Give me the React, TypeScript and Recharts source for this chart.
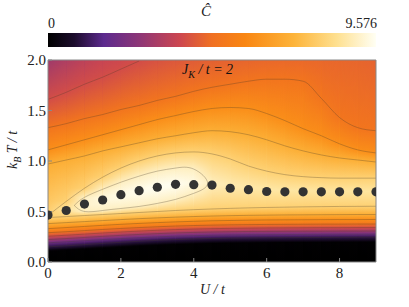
import React from "react";
import { ComposedChart, XAxis, YAxis, ReferenceArea, Line, Scatter } from "recharts";

const C_MAX = 9.576;
const U_GRID = [0, 0.5, 1, 1.5, 2, 2.5, 3, 3.5, 4, 4.5, 5, 5.5, 6, 6.5, 7, 7.5, 8, 8.5, 9];

// top of the black (C ~ 0) band per U column
const blackT = [0.11, 0.12, 0.13, 0.14, 0.15, 0.16, 0.168, 0.175, 0.18, 0.185, 0.188, 0.19, 0.192, 0.193, 0.194, 0.195, 0.196, 0.197, 0.198];

// contour heights (k_B T / t) read per U column, rising side: C = 1 .. 8
const lower1 = [0.15, 0.16, 0.172, 0.184, 0.195, 0.205, 0.214, 0.222, 0.228, 0.233, 0.236, 0.238, 0.24, 0.241, 0.242, 0.243, 0.244, 0.245, 0.245];
const lower2 = [0.19, 0.2, 0.211, 0.222, 0.232, 0.241, 0.249, 0.256, 0.261, 0.265, 0.268, 0.27, 0.271, 0.272, 0.273, 0.274, 0.275, 0.275, 0.276];
const lower3 = [0.222, 0.232, 0.243, 0.254, 0.264, 0.273, 0.281, 0.288, 0.293, 0.297, 0.3, 0.302, 0.303, 0.304, 0.305, 0.305, 0.306, 0.306, 0.307];
const lower4 = [0.255, 0.265, 0.276, 0.287, 0.297, 0.306, 0.314, 0.321, 0.326, 0.33, 0.333, 0.335, 0.337, 0.338, 0.339, 0.34, 0.34, 0.341, 0.341];
const lower5 = [0.29, 0.3, 0.311, 0.322, 0.332, 0.341, 0.349, 0.356, 0.361, 0.365, 0.368, 0.37, 0.372, 0.373, 0.374, 0.375, 0.375, 0.376, 0.376];
const lower6 = [0.33, 0.341, 0.352, 0.363, 0.373, 0.382, 0.39, 0.397, 0.403, 0.408, 0.411, 0.414, 0.416, 0.417, 0.418, 0.419, 0.42, 0.42, 0.421];
const lower7 = [0.38, 0.39, 0.4, 0.41, 0.42, 0.429, 0.437, 0.444, 0.45, 0.455, 0.459, 0.462, 0.464, 0.466, 0.467, 0.468, 0.469, 0.47, 0.47];
const lower8 = [0.44, 0.45, 0.46, 0.47, 0.48, 0.49, 0.5, 0.51, 0.518, 0.525, 0.531, 0.536, 0.54, 0.543, 0.546, 0.548, 0.55, 0.551, 0.552];
const lower9 = [null, null, 0.5, 0.51, 0.53, 0.55, 0.58, 0.62, 0.68, null, null, null, null, null, null, null, null, null, null];

// falling side (above the maximum): C = 9 .. 4
const upper9 = [null, null, 0.64, 0.72, 0.79, 0.85, 0.9, 0.93, 0.92, null, null, null, null, null, null, null, null, null, null];
const upper8 = [0.46, 0.6, 0.73, 0.84, 0.93, 1.0, 1.05, 1.08, 1.09, 1.07, 1.02, 0.95, 0.9, 0.865, 0.845, 0.835, 0.83, 0.83, 0.83];
const upper7 = [0.97, 1.01, 1.05, 1.1, 1.14, 1.18, 1.22, 1.25, 1.28, 1.3, 1.29, 1.26, 1.21, 1.15, 1.1, 1.06, 1.03, 1.01, 0.99];
const upper6 = [1.11, 1.16, 1.21, 1.26, 1.31, 1.36, 1.41, 1.45, 1.49, 1.52, 1.53, 1.52, 1.47, 1.4, 1.32, 1.25, 1.17, 1.11, 1.08];
const upper5 = [1.33, 1.37, 1.42, 1.46, 1.51, 1.55, 1.6, 1.64, 1.69, 1.73, 1.76, 1.79, 1.81, 1.81, 1.79, 1.62, 1.43, 1.33, 1.3];
const upper4 = [1.61, 1.68, 1.76, 1.83, 1.91, 1.99, null, null, null, null, null, null, null, null, null, null, null, null, null];

// ellipse tips of the C = 9 contour
const tip9Left = { u: 0.72, t: 0.56 };
const tip9Right = { u: 4.38, t: 0.78 };

// maximum of each column and the value at the top edge
const ridgeT = [0.45, 0.52, 0.57, 0.62, 0.66, 0.7, 0.74, 0.77, 0.79, 0.78, 0.76, 0.74, 0.72, 0.71, 0.71, 0.7, 0.7, 0.7, 0.7];
const ridgeC = [8.05, 8.6, 9.15, 9.35, 9.45, 9.52, 9.576, 9.55, 9.35, 8.95, 8.8, 8.72, 8.68, 8.65, 8.63, 8.62, 8.61, 8.6, 8.6];
const topC = [3.0, 3.3, 3.55, 3.75, 3.88, 3.97, 4.12, 4.25, 4.35, 4.45, 4.5, 4.55, 4.6, 4.62, 4.62, 4.6, 4.58, 4.55, 4.5];

// black dots
const dotT = [0.465, 0.51, 0.574, 0.614, 0.667, 0.706, 0.74, 0.769, 0.766, 0.762, 0.73, 0.716, 0.698, 0.695, 0.695, 0.695, 0.695, 0.695, 0.695];

const CMAP: [number, string][] = [
  [0, "#000000"],
  [0.08, "#1c0c2c"],
  [0.17, "#5c2a8e"],
  [0.28, "#8e3676"],
  [0.4, "#cc4650"],
  [0.5, "#f07022"],
  [0.6, "#f98612"],
  [0.75, "#fdb43a"],
  [0.88, "#fee090"],
  [1, "#fffff4"],
];

function hex(c: string) {
  return [1, 3, 5].map((i) => parseInt(c.slice(i, i + 2), 16));
}

function colorAt(f: number) {
  const v = Math.max(0, Math.min(1, f));
  for (let i = 1; i < CMAP.length; i++) {
    if (v <= CMAP[i][0]) {
      const [p0, c0] = CMAP[i - 1];
      const [p1, c1] = CMAP[i];
      const k = (v - p0) / (p1 - p0);
      const a = hex(c0);
      const b = hex(c1);
      const m = a.map((x, j) => Math.round(x + (b[j] - x) * k));
      return `rgb(${m[0]},${m[1]},${m[2]})`;
    }
  }
  return CMAP[CMAP.length - 1][1];
}

const lowers = [lower1, lower2, lower3, lower4, lower5, lower6, lower7, lower8];
const uppers: [number, (number | null)[]][] = [
  [8, upper8],
  [7, upper7],
  [6, upper6],
  [5, upper5],
  [4, upper4],
];

function columnStops(i: number) {
  const s: { t: number; c: number }[] = [{ t: 0, c: 0 }, { t: blackT[i], c: 0.05 }];
  lowers.forEach((arr, k) => s.push({ t: arr[i], c: k + 1 }));
  if (lower9[i] != null) s.push({ t: lower9[i] as number, c: 9 });
  s.push({ t: ridgeT[i], c: ridgeC[i] });
  if (upper9[i] != null) s.push({ t: upper9[i] as number, c: 9 });
  uppers.forEach(([c, arr]) => {
    if (arr[i] != null) s.push({ t: arr[i] as number, c });
  });
  s.push({ t: 2, c: topC[i] });
  return s.sort((a, b) => a.t - b.t);
}

function branch(arr: (number | null)[]) {
  return U_GRID.map((u, i) => ({ u, t: arr[i] })).filter((p) => p.t != null);
}

const ellipse = [
  tip9Left,
  ...branch(upper9),
  tip9Right,
  ...branch(lower9).reverse(),
  tip9Left,
];

const contourSets = [
  ...lowers.map((a) => branch(a)),
  branch(upper8),
  branch(upper7),
  branch(upper6),
  branch(upper5),
  branch(upper4),
];

const dots = U_GRID.map((u, i) => ({ u, t: dotT[i] }));

const serif = "Liberation Serif, Times New Roman, serif";
const tickStyle = { fontSize: 15, fill: "#222", fontFamily: serif };
const lineColor = "rgba(70,55,40,0.38)";

export default function App() {
  const cbGradient = `linear-gradient(to right, ${CMAP.map(([p, c]) => `${c} ${p * 100}%`).join(", ")})`;
  const spans = U_GRID.slice(0, -1);
  return (
    <div style={{ position: "absolute", left: 0, top: 0, width: 409, height: 307, background: "#fff", fontFamily: serif }}>
      <div style={{ position: "absolute", left: 201, top: 3, fontSize: 15, fontStyle: "italic", color: "#222" }}>Ĉ</div>
      <div style={{ position: "absolute", left: 48, top: 16, fontSize: 14, color: "#222" }}>0</div>
      <div style={{ position: "absolute", right: 409 - 377, top: 16, fontSize: 14, color: "#222" }}>9.576</div>
      <div style={{ position: "absolute", left: 48, top: 33, width: 328, height: 14, background: cbGradient }} />

      <ComposedChart width={409} height={307} margin={{ top: 59, right: 32, bottom: 0, left: 0 }}>
        <defs>
          {U_GRID.map((u, i) => (
            <linearGradient key={i} id={`col${i}`} x1="0" y1="1" x2="0" y2="0">
              {columnStops(i).map((s, j) => (
                <stop key={j} offset={`${(s.t / 2) * 100}%`} stopColor={colorAt(s.c / C_MAX)} />
              ))}
            </linearGradient>
          ))}
          <linearGradient id="ramp" x1="0" y1="0" x2="1" y2="0">
            <stop offset="0%" stopColor="#fff" stopOpacity={0} />
            <stop offset="100%" stopColor="#fff" stopOpacity={1} />
          </linearGradient>
          <mask id="rampMask" maskContentUnits="objectBoundingBox">
            <rect x={0} y={0} width={1} height={1} fill="url(#ramp)" />
          </mask>
          <clipPath id="plotClip">
            <rect x={48} y={60} width={328} height={202} />
          </clipPath>
        </defs>
        <XAxis
          xAxisId="b"
          type="number"
          dataKey="u"
          domain={[0, 9]}
          ticks={[0, 2, 4, 6, 8]}
          allowDataOverflow
          height={45}
          stroke="#888"
          tickSize={-4}
          tickMargin={9}
          tick={tickStyle}
        />
        <XAxis
          xAxisId="t"
          orientation="top"
          type="number"
          dataKey="u"
          domain={[0, 9]}
          ticks={U_GRID}
          allowDataOverflow
          height={1}
          stroke="#888"
          tickSize={-3}
          tick={false}
        />
        <YAxis
          yAxisId="l"
          type="number"
          dataKey="t"
          domain={[0, 2]}
          ticks={[0, 0.5, 1, 1.5, 2]}
          tickFormatter={(v: number) => v.toFixed(1)}
          allowDataOverflow
          width={48}
          stroke="#888"
          tickSize={-4}
          tickMargin={6}
          tick={tickStyle}
        />
        <YAxis
          yAxisId="r"
          orientation="right"
          type="number"
          dataKey="t"
          domain={[0, 2]}
          ticks={[0.1, 0.2, 0.3, 0.4, 0.5, 0.6, 0.7, 0.8, 0.9, 1, 1.1, 1.2, 1.3, 1.4, 1.5, 1.6, 1.7, 1.8, 1.9]}
          allowDataOverflow
          width={1}
          stroke="#888"
          tickSize={-3}
          tick={false}
        />
        {spans.map((u, i) => (
          <ReferenceArea
            key={`a${i}`}
            xAxisId="b"
            yAxisId="l"
            x1={u}
            x2={Math.min(9, U_GRID[i + 1] + 0.06)}
            y1={0}
            y2={2}
            fill={`url(#col${i})`}
            fillOpacity={1}
            stroke="none"
          />
        ))}
        {spans.map((u, i) => (
          <ReferenceArea
            key={`b${i}`}
            xAxisId="b"
            yAxisId="l"
            x1={u}
            x2={U_GRID[i + 1]}
            y1={0}
            y2={2}
            fill={`url(#col${i + 1})`}
            fillOpacity={1}
            stroke="none"
            mask="url(#rampMask)"
          />
        ))}
        {contourSets.map((d, k) => (
          <Line
            key={`l${k}`}
            xAxisId="b"
            yAxisId="l"
            data={d}
            dataKey="t"
            type="monotone"
            stroke={lineColor}
            strokeWidth={0.8}
            dot={false}
            activeDot={false}
            isAnimationActive={false}
          />
        ))}
        <Line
          xAxisId="b"
          yAxisId="l"
          data={ellipse}
          dataKey="t"
          type="natural"
          stroke={lineColor}
          strokeWidth={0.8}
          dot={false}
          activeDot={false}
          isAnimationActive={false}
        />
        <Scatter
          xAxisId="b"
          yAxisId="l"
          data={dots}
          dataKey="t"
          isAnimationActive={false}
          shape={(p: any) => <circle cx={p.cx} cy={p.cy} r={4.6} fill="#333" clipPath="url(#plotClip)" />}
        />
      </ComposedChart>

      <div style={{ position: "absolute", left: 182, top: 62, fontSize: 14, fontStyle: "italic", color: "#111", whiteSpace: "nowrap" }}>
        J<sub style={{ fontSize: 10 }}>K</sub> / t = 2
      </div>
      <div style={{ position: "absolute", left: 200, top: 282, fontSize: 14, fontStyle: "italic", color: "#222", whiteSpace: "nowrap" }}>
        U / t
      </div>
      <div
        style={{
          position: "absolute",
          left: 14,
          top: 150,
          transform: "translate(-50%, -50%) rotate(-90deg)",
          fontSize: 14,
          fontStyle: "italic",
          color: "#222",
          whiteSpace: "nowrap",
        }}
      >
        k<sub style={{ fontSize: 10 }}>B</sub> T / t
      </div>
    </div>
  );
}
